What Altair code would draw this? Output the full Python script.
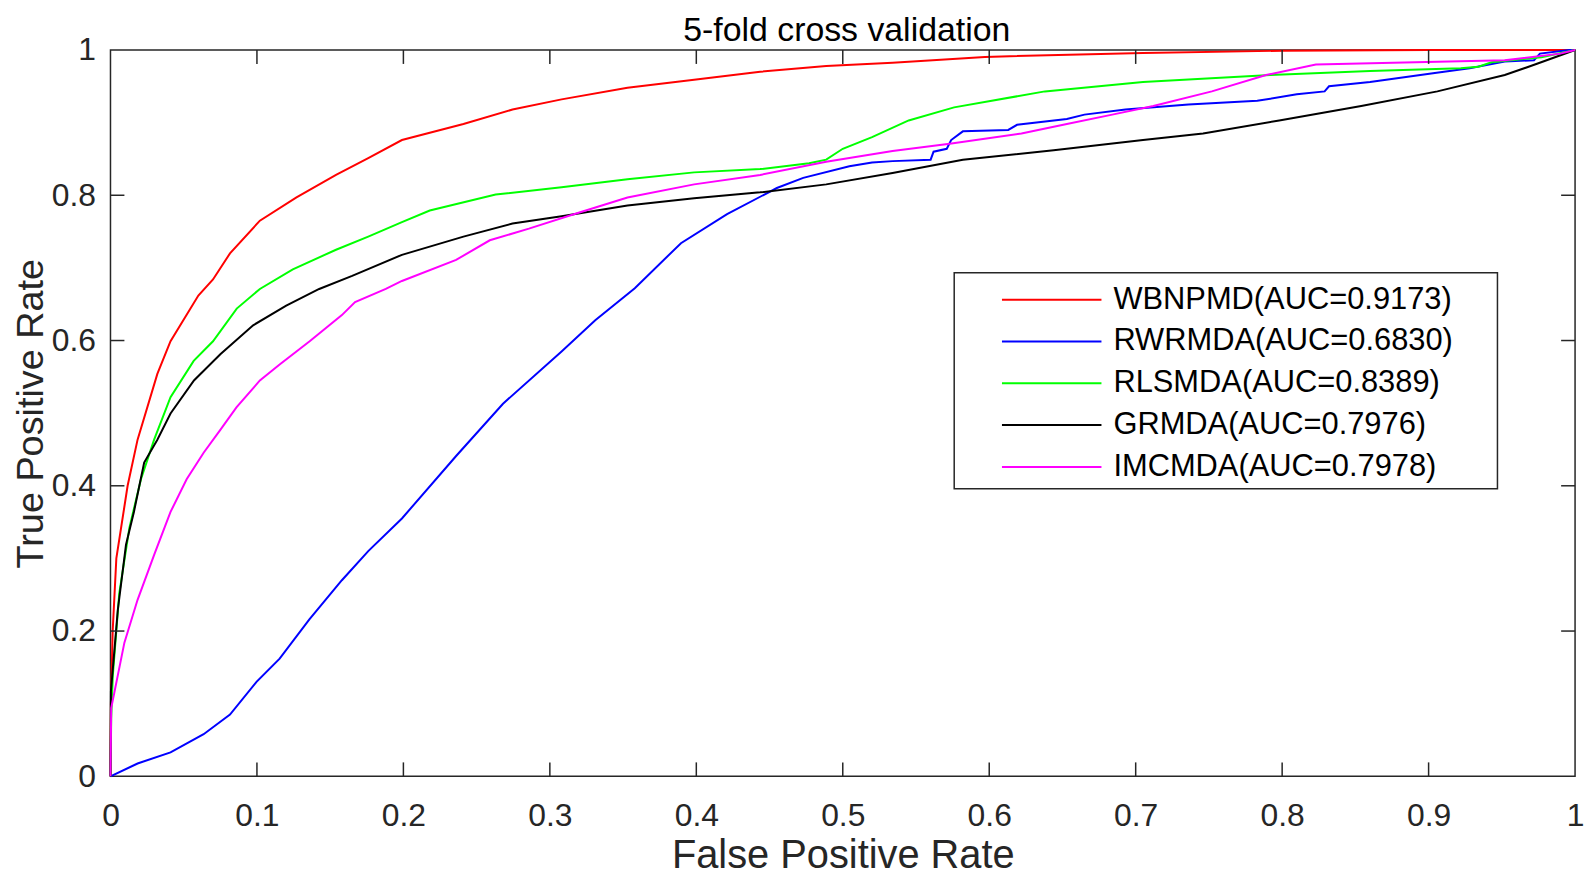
import altair as alt
import pandas as pd

# ---------------- data ----------------
chart_title = "5-fold cross validation"
series_names = [
    "WBNPMD(AUC=0.9173)",
    "RWRMDA(AUC=0.6830)",
    "RLSMDA(AUC=0.8389)",
    "GRMDA(AUC=0.7976)",
    "IMCMDA(AUC=0.7978)",
]
series_colors = ["#FF0000", "#0000FF", "#00FF00", "#000000", "#FF00FF"]

wbnpmd_fpr = [0, 0.0003, 0.0015, 0.004, 0.0117, 0.0185, 0.032, 0.041, 0.060, 0.070,
              0.0816, 0.102, 0.127, 0.154, 0.176, 0.199, 0.241, 0.2745, 0.308, 0.353,
              0.3985, 0.4436, 0.4887, 0.534, 0.597, 0.705, 0.80, 0.90, 1.0]
wbnpmd_tpr = [0, 0.10, 0.20, 0.30, 0.400, 0.4635, 0.554, 0.599, 0.662, 0.684,
              0.720, 0.765, 0.797, 0.828, 0.851, 0.876, 0.898, 0.918, 0.932, 0.948,
              0.959, 0.970, 0.978, 0.9824, 0.9905, 0.996, 0.999, 1.0, 1.0]

rwrmda_fpr = [0, 0.0185, 0.041, 0.0636, 0.0816, 0.0997, 0.1155, 0.1358, 0.158, 0.176,
              0.199, 0.236, 0.268, 0.308, 0.331, 0.358, 0.3895, 0.421, 0.455, 0.473,
              0.5045, 0.520, 0.534, 0.560, 0.562, 0.571, 0.574, 0.582, 0.613, 0.619,
              0.653, 0.665, 0.693, 0.736, 0.783, 0.810, 0.829, 0.832, 0.860, 0.903,
              0.928, 0.952, 0.972, 0.976, 0.996, 1.0]
rwrmda_tpr = [0, 0.0176, 0.033, 0.058, 0.085, 0.130, 0.162, 0.216, 0.270, 0.310,
              0.355, 0.441, 0.513, 0.585, 0.628, 0.672, 0.734, 0.774, 0.810, 0.824,
              0.840, 0.845, 0.847, 0.849, 0.860, 0.864, 0.876, 0.888, 0.890, 0.897,
              0.905, 0.911, 0.918, 0.925, 0.930, 0.939, 0.943, 0.950, 0.956, 0.968,
              0.975, 0.984, 0.986, 0.995, 1.0, 1.0]

rlsmda_fpr = [0, 0.0005, 0.0016, 0.006, 0.0129, 0.0208, 0.0298, 0.041, 0.0568, 0.070,
              0.0862, 0.102, 0.1245, 0.154, 0.176, 0.199, 0.218, 0.263, 0.308, 0.353,
              0.3985, 0.4436, 0.477, 0.4887, 0.500, 0.520, 0.545, 0.576, 0.638, 0.705,
              0.792, 0.860, 0.922, 0.934, 0.943, 0.977, 1.0]
rlsmda_tpr = [0, 0.08, 0.139, 0.252, 0.342, 0.409, 0.4635, 0.522, 0.572, 0.599,
              0.644, 0.671, 0.698, 0.725, 0.743, 0.763, 0.779, 0.801, 0.811, 0.822,
              0.8315, 0.836, 0.844, 0.849, 0.864, 0.880, 0.903, 0.921, 0.943, 0.956,
              0.9655, 0.971, 0.975, 0.977, 0.983, 0.990, 1.0]

grmda_fpr = [0, 0.0003, 0.005, 0.0106, 0.016, 0.023, 0.032, 0.041, 0.057, 0.075,
             0.0974, 0.12, 0.1425, 0.165, 0.199, 0.241, 0.2745, 0.308, 0.353, 0.3985,
             0.4436, 0.4887, 0.534, 0.582, 0.644, 0.705, 0.746, 0.798, 0.854, 0.906,
             0.952, 0.974, 1.0]
grmda_tpr = [0, 0.117, 0.229, 0.319, 0.364, 0.432, 0.4635, 0.4995, 0.545, 0.581,
             0.621, 0.648, 0.671, 0.689, 0.718, 0.743, 0.761, 0.771, 0.786, 0.796,
             0.804, 0.815, 0.8305, 0.849, 0.862, 0.876, 0.885, 0.903, 0.923, 0.943,
             0.9655, 0.981, 1.0]

imcmda_fpr = [0, 0.0005, 0.0095, 0.0185, 0.030, 0.041, 0.052, 0.0636, 0.075, 0.086,
              0.102, 0.1155, 0.136, 0.158, 0.167, 0.188, 0.199, 0.236, 0.259, 0.2857,
              0.3196, 0.353, 0.3985, 0.4436, 0.4887, 0.534, 0.573, 0.622, 0.653, 0.684,
              0.712, 0.752, 0.789, 0.823, 0.891, 0.952, 0.990, 1.0]
imcmda_tpr = [0, 0.094, 0.184, 0.243, 0.306, 0.364, 0.409, 0.4455, 0.477, 0.508,
              0.545, 0.567, 0.599, 0.635, 0.653, 0.671, 0.682, 0.711, 0.738, 0.754,
              0.776, 0.797, 0.815, 0.828, 0.846, 0.861, 0.871, 0.885, 0.898, 0.911,
              0.923, 0.943, 0.9655, 0.980, 0.983, 0.986, 0.995, 1.0]

x_tick_values = [0, 0.1, 0.2, 0.3, 0.4, 0.5, 0.6, 0.7, 0.8, 0.9, 1]
y_tick_values = [0, 0.2, 0.4, 0.6, 0.8, 1]
x_inner_ticks = [0.1, 0.2, 0.3, 0.4, 0.5, 0.6, 0.7, 0.8, 0.9]
y_inner_ticks = [0.2, 0.4, 0.6, 0.8]

# ---------------- build table ----------------
all_series = [
    (series_names[0], wbnpmd_fpr, wbnpmd_tpr),
    (series_names[1], rwrmda_fpr, rwrmda_tpr),
    (series_names[2], rlsmda_fpr, rlsmda_tpr),
    (series_names[3], grmda_fpr, grmda_tpr),
    (series_names[4], imcmda_fpr, imcmda_tpr),
]
rows = []
for name, fpr, tpr in all_series:
    for i, (a, b) in enumerate(zip(fpr, tpr)):
        rows.append({"method": name, "fpr": a, "tpr": b, "i": i})
df = pd.DataFrame(rows)

W, H = 1472, 730
FONT = "Liberation Sans"
INK = "#262626"
TICK_LEN = 14

# legend frame (pixel style, relative to the plot area)
LEG_X0, LEG_X1, LEG_Y0, LEG_Y1 = 848, 1394, 224, 441

x_scale = alt.Scale(domain=[0, 1], nice=False, zero=False)
y_scale = alt.Scale(domain=[0, 1], nice=False, zero=False)

label_expr = "datum.value == 0 ? '0' : (datum.value == 1 ? '1' : format(datum.value, '.1f'))"

x_axis = alt.Axis(
    values=x_tick_values, labelExpr=label_expr, title="False Positive Rate",
    ticks=False, tickSize=0, domain=False, grid=False,
    labelFont=FONT, labelFontSize=32, labelColor=INK, labelPadding=49,
    labelBaseline="alphabetic", labelFlush=False, labelOverlap=False,
    titleFont=FONT, titleFontSize=40, titleFontWeight="normal", titleColor=INK,
    titleBaseline="alphabetic", titleY=92)
y_axis = alt.Axis(
    values=y_tick_values, labelExpr=label_expr, title="True Positive Rate",
    ticks=False, tickSize=0, domain=False, grid=False,
    labelFont=FONT, labelFontSize=32, labelColor=INK, labelPadding=15,
    labelBaseline="middle", labelFlush=False, labelOverlap=False,
    titleFont=FONT, titleFontSize=38, titleFontWeight="normal", titleColor=INK,
    titleBaseline="alphabetic", titleAngle=270, titleAlign="center",
    titleX=-68, titleY=H / 2)

legend_frame = alt.Chart(pd.DataFrame({"k": [0]})).mark_rect(
    fill="#FFFFFF", stroke=INK, strokeWidth=1.5
).encode(x=alt.value(LEG_X0), x2=alt.value(LEG_X1), y=alt.value(LEG_Y0), y2=alt.value(LEG_Y1))

lines = alt.Chart(df).mark_line(strokeWidth=2).encode(
    x=alt.X("fpr:Q", scale=x_scale, axis=x_axis),
    y=alt.Y("tpr:Q", scale=y_scale, axis=y_axis),
    color=alt.Color("method:N", scale=alt.Scale(domain=series_names, range=series_colors),
                    legend=alt.Legend(
                        orient="none", legendX=844, legendY=226, title=None,
                        symbolType="stroke", symbolSize=10000, symbolStrokeWidth=2,
                        labelFont=FONT, labelFontSize=31, labelColor="#000000",
                        labelLimit=800, padding=9,
                        rowPadding=10, clipHeight=32, symbolOffset=42, labelOffset=11)),
    order="i:Q",
)

xt = pd.DataFrame({"fpr": x_inner_ticks})
yt = pd.DataFrame({"tpr": y_inner_ticks})
rule_style = dict(color=INK, strokeWidth=1.5)

bottom_ticks = alt.Chart(xt).mark_rule(**rule_style).encode(
    x=alt.X("fpr:Q", scale=x_scale, axis=x_axis), y=alt.value(H), y2=alt.value(H - TICK_LEN))
top_ticks = alt.Chart(xt).mark_rule(**rule_style).encode(
    x=alt.X("fpr:Q", scale=x_scale, axis=x_axis), y=alt.value(0), y2=alt.value(TICK_LEN))
left_ticks = alt.Chart(yt).mark_rule(**rule_style).encode(
    y=alt.Y("tpr:Q", scale=y_scale, axis=y_axis), x=alt.value(0), x2=alt.value(TICK_LEN))
right_ticks = alt.Chart(yt).mark_rule(**rule_style).encode(
    y=alt.Y("tpr:Q", scale=y_scale, axis=y_axis), x=alt.value(W), x2=alt.value(W - TICK_LEN))

title_df = pd.DataFrame({"label": [chart_title]})
title_text = alt.Chart(title_df).mark_text(
    font=FONT, fontSize=34, color="#000000", align="center", baseline="alphabetic"
).encode(text="label:N", x=alt.value(W / 2 + 4), y=alt.value(-9))

chart = alt.layer(legend_frame, lines, bottom_ticks, top_ticks, left_ticks, right_ticks,
                  title_text).properties(
    width=W, height=H,
    padding={"left": 103, "top": 40, "right": 12, "bottom": 101},
    autosize=alt.AutoSizeParams(type="none"),
).configure_view(stroke=INK, strokeWidth=1.5)

chart.save("out.html", embed_options={"renderer": "svg", "actions": False})
